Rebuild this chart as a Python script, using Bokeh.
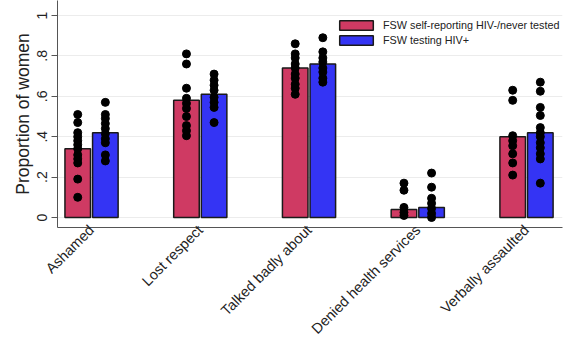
from math import pi
from bokeh.plotting import figure
from bokeh.models import ColumnDataSource, FixedTicker, Range1d, Legend, LegendItem
from bokeh.embed import file_html
from bokeh.resources import INLINE

categories = ["Ashamed", "Lost respect", "Talked badly about", "Denied health services", "Verbally assaulted"]
series_names = ["FSW self-reporting HIV-/never tested", "FSW testing HIV+"]
neg_means = [0.34, 0.58, 0.74, 0.04, 0.40]
pos_means = [0.42, 0.61, 0.76, 0.05, 0.42]

neg_points = [
    [0.51, 0.47, 0.42, 0.40, 0.38, 0.36, 0.34, 0.31, 0.29, 0.27, 0.19, 0.10],
    [0.81, 0.76, 0.64, 0.59, 0.565, 0.54, 0.50, 0.455, 0.43, 0.405],
    [0.86, 0.81, 0.79, 0.76, 0.74, 0.71, 0.69, 0.66, 0.64, 0.61],
    [0.17, 0.135, 0.05, 0.025, 0.01],
    [0.63, 0.58, 0.405, 0.38, 0.355, 0.315, 0.27, 0.21],
]
pos_points = [
    [0.57, 0.51, 0.49, 0.465, 0.44, 0.415, 0.39, 0.37, 0.31, 0.28],
    [0.71, 0.68, 0.655, 0.63, 0.595, 0.57, 0.545, 0.47],
    [0.89, 0.82, 0.79, 0.77, 0.74, 0.72, 0.69, 0.67],
    [0.22, 0.15, 0.095, 0.07, 0.045, 0.02, 0.0],
    [0.67, 0.625, 0.545, 0.505, 0.445, 0.42, 0.40, 0.37, 0.345, 0.315, 0.29, 0.17],
]
y_ticks = [0, 0.2, 0.4, 0.6, 0.8, 1.0]
y_tick_labels = ["0", ".2", ".4", ".6", ".8", "1"]

RED = "#cf3a63"
BLUE = "#3434f4"
OFF = 0.127
BAR_W = 0.235

W, H = 578, 346
p = figure(width=W, height=H, output_backend="svg", toolbar_location=None,
           x_range=Range1d(0.687, 5.331), y_range=Range1d(-0.0495, 1.0743),
           min_border_left=57, min_border_right=16, min_border_top=0, min_border_bottom=119)
p.background_fill_color = "white"
p.border_fill_color = "white"
p.outline_line_color = None

groups = list(range(1, len(categories) + 1))
src_neg = ColumnDataSource(dict(x=[g - OFF for g in groups], top=neg_means))
src_pos = ColumnDataSource(dict(x=[g + OFF for g in groups], top=pos_means))
r_neg = p.vbar(x="x", top="top", bottom=0, width=BAR_W, source=src_neg,
               fill_color=RED, line_color="#1a1a1a", line_width=1.5)
r_pos = p.vbar(x="x", top="top", bottom=0, width=BAR_W, source=src_pos,
               fill_color=BLUE, line_color="#1a1a1a", line_width=1.5)

px, py = [], []
for g, pts in zip(groups, neg_points):
    px += [g - OFF] * len(pts)
    py += pts
for g, pts in zip(groups, pos_points):
    px += [g + OFF] * len(pts)
    py += pts
p.scatter(px, py, size=8, color="black")

# axes
p.xaxis.ticker = FixedTicker(ticks=groups)
p.xaxis.major_label_overrides = {g: c for g, c in zip(groups, categories)}
p.xaxis.major_label_orientation = pi / 4
p.xaxis.major_label_text_font = "Liberation Sans"
p.xaxis.major_label_text_font_size = "14.5px"
p.xaxis.major_label_text_color = "#222222"
p.xaxis.major_tick_out = 0
p.xaxis.major_tick_in = 0
p.xaxis.major_tick_line_color = None
p.xaxis.minor_tick_line_color = None
p.xaxis.axis_line_color = "#555555"
p.xaxis.major_label_standoff = 0

p.yaxis.ticker = FixedTicker(ticks=y_ticks)
p.yaxis.major_label_overrides = {t: l for t, l in zip(y_ticks, y_tick_labels)}
p.yaxis.major_label_orientation = "vertical"
p.yaxis.major_label_text_font = "Liberation Sans"
p.yaxis.major_label_text_font_size = "14px"
p.yaxis.major_label_text_color = "#222222"
p.yaxis.major_tick_out = 6
p.yaxis.major_tick_in = 0
p.yaxis.major_tick_line_color = "#555555"
p.yaxis.minor_tick_line_color = None
p.yaxis.axis_line_color = "#555555"
p.yaxis.axis_label = "Proportion of women"
p.yaxis.axis_label_text_font = "Liberation Sans"
p.yaxis.axis_label_text_font_style = "normal"
p.yaxis.axis_label_text_font_size = "17.5px"
p.yaxis.axis_label_text_color = "#222222"
p.yaxis.axis_label_standoff = 2
p.yaxis.major_label_standoff = 4

p.xgrid.grid_line_color = None
p.ygrid.ticker = FixedTicker(ticks=y_ticks)
p.ygrid.grid_line_color = "#ececec"

legend = Legend(items=[LegendItem(label=series_names[0], renderers=[r_neg]),
                       LegendItem(label=series_names[1], renderers=[r_pos])],
                location=(278, 181), orientation="vertical")
legend.glyph_width = 42
legend.glyph_height = 12
legend.label_height = 12
legend.spacing = 3
legend.padding = 2
legend.margin = 0
legend.label_standoff = 6
legend.label_text_font = "Liberation Sans"
legend.label_text_font_size = "10.8px"
legend.label_text_color = "#222222"
legend.border_line_color = None
legend.background_fill_color = "white"
legend.background_fill_alpha = 1.0
p.add_layout(legend, "center")

open("out.html", "w").write(file_html(p, INLINE))
